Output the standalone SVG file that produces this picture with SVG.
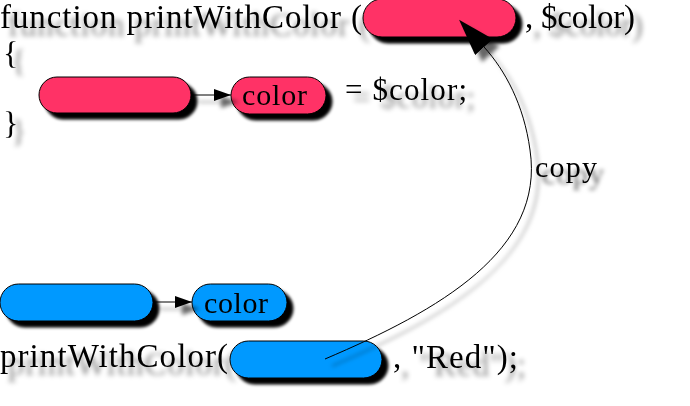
<svg xmlns="http://www.w3.org/2000/svg" width="690" height="406" viewBox="0 0 690 406">
<defs>
<style>
.t{font-family:"Liberation Serif","Times New Roman",serif;fill:#000}
.red{fill:#FF3366;stroke:#000;stroke-width:1}
.blue{fill:#0099FF;stroke:#000;stroke-width:1}
.ln{fill:none;stroke:#000;stroke-width:1}
</style>
<filter id="ts" x="-10%" y="-30%" width="130%" height="180%">
<feGaussianBlur in="SourceAlpha" stdDeviation="2.4"/>
<feOffset dx="8" dy="8" result="b"/>
<feFlood flood-color="#000" flood-opacity="0.45"/>
<feComposite in2="b" operator="in"/>
<feMerge><feMergeNode/><feMergeNode in="SourceGraphic"/></feMerge>
</filter>
<filter id="bs" x="-20%" y="-30%" width="150%" height="180%">
<feGaussianBlur in="SourceAlpha" stdDeviation="1.8"/>
<feOffset dx="6" dy="6" result="b"/>
<feFlood flood-color="#000" flood-opacity="1"/>
<feComposite in2="b" operator="in"/>
<feMerge><feMergeNode/><feMergeNode in="SourceGraphic"/></feMerge>
</filter>
<filter id="cs" x="-20%" y="-20%" width="150%" height="150%">
<feGaussianBlur in="SourceAlpha" stdDeviation="2"/>
<feOffset dx="7" dy="7" result="b"/>
<feFlood flood-color="#000" flood-opacity="0.6"/>
<feComposite in2="b" operator="in"/>
<feMerge><feMergeNode/><feMergeNode in="SourceGraphic"/></feMerge>
</filter>
<marker id="arr" markerUnits="userSpaceOnUse" markerWidth="18" markerHeight="14" refX="17" refY="7" orient="auto">
<path d="M0,1 L17,7 L0,13 z" fill="#000"/>
</marker>
<marker id="big" markerUnits="userSpaceOnUse" markerWidth="40" markerHeight="26" refX="0" refY="12" orient="auto">
<path d="M0,0 L37,12 L0,24 z" fill="#000"/>
</marker>
</defs>
<rect width="690" height="406" fill="#fff"/>

<g id="code-text" filter="url(#ts)">
<text class="t" x="0" y="28" font-size="33" textLength="362" lengthAdjust="spacing">function printWithColor (</text>
<text class="t" x="525" y="28" font-size="33" textLength="110" lengthAdjust="spacing">, $color)</text>
<text class="t" x="3" y="64" font-size="32">{</text>
<text class="t" x="3" y="134" font-size="32">}</text>
<text class="t" x="345" y="100" font-size="31" textLength="122" lengthAdjust="spacing">= $color;</text>
<text class="t" x="0" y="367" font-size="33" textLength="228" lengthAdjust="spacing">printWithColor(</text>
<text class="t" x="393" y="368" font-size="33" textLength="125" lengthAdjust="spacing">, "Red");</text>
</g>

<g id="param-red" filter="url(#bs)">
<rect class="red" x="363" y="-1" width="153" height="38" rx="19"/>
</g>
<g id="var-red" filter="url(#bs)">
<rect class="red" x="39" y="77" width="152" height="36" rx="18"/>
</g>
<g id="color-red" filter="url(#bs)">
<rect class="red" x="231" y="77" width="95" height="37" rx="18.5"/>
<text class="t" x="242" y="105" font-size="30" textLength="65" lengthAdjust="spacing">color</text>
</g>
<g id="var-blue" filter="url(#bs)">
<rect class="blue" x="0" y="284" width="153" height="37" rx="18.5"/>
</g>
<g id="color-blue" filter="url(#bs)">
<rect class="blue" x="192" y="284" width="95" height="37" rx="18.5"/>
<text class="t" x="204" y="313" font-size="30" textLength="64" lengthAdjust="spacing">color</text>
</g>
<g id="arg-blue" filter="url(#bs)">
<rect class="blue" x="230" y="341" width="152" height="37" rx="18.5"/>
</g>

<g id="connectors" filter="url(#cs)">
<line class="ln" x1="191" y1="95" x2="231" y2="95" marker-end="url(#arr)"/>
<line class="ln" x1="153" y1="302" x2="192" y2="302" marker-end="url(#arr)"/>
<path class="ln" d="M325,359 C440,310 545,250 530,150 C524,105 505,70 484,47" marker-end="url(#big)"/>
<text class="t" x="535" y="177" font-size="30" textLength="62" lengthAdjust="spacing">copy</text>
</g>
</svg>
